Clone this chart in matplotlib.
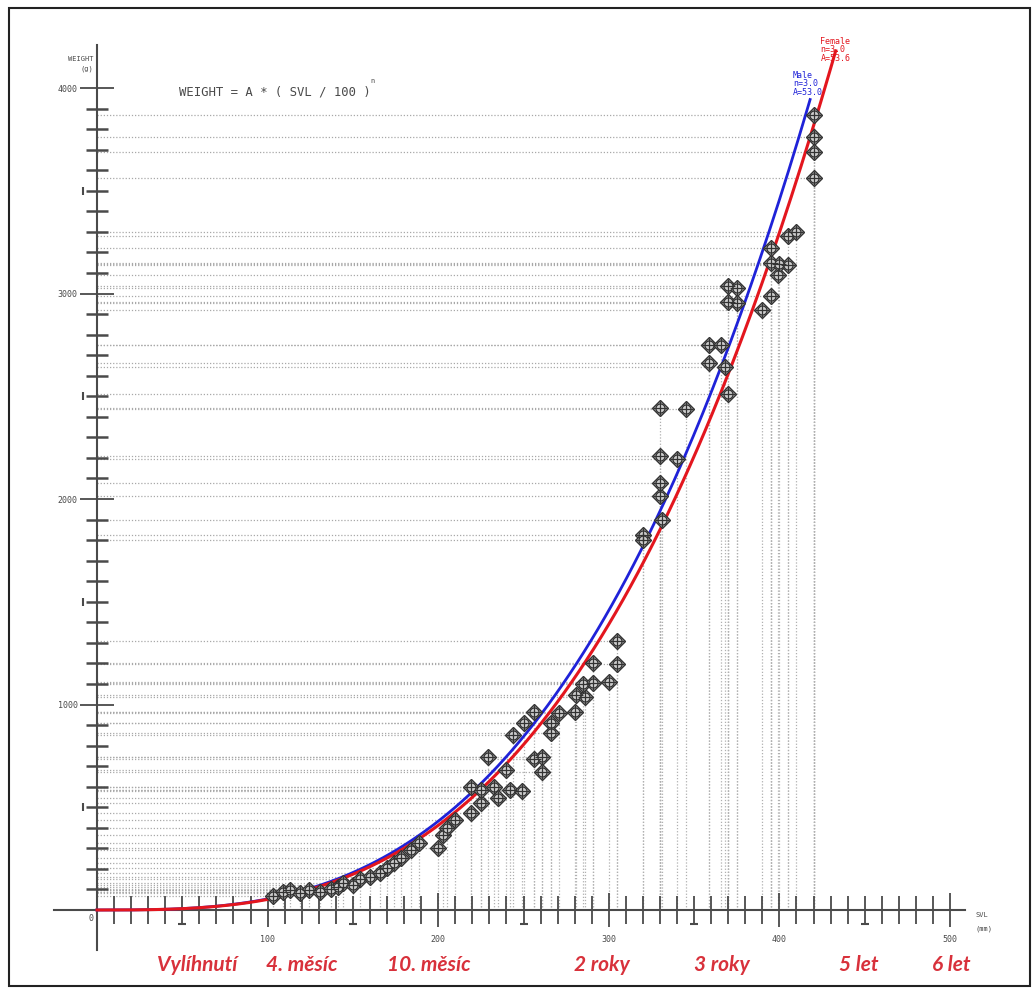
"""Weight vs SVL scatter with power-law growth curves."""

import matplotlib
matplotlib.use("Agg")
import matplotlib.pyplot as plt
import numpy as np
from matplotlib.patches import Rectangle

# measured animals: snout-vent length (mm) and weight (g)
svl = np.array([
    103, 109, 113, 119, 124, 131, 137, 141, 144, 150, 154, 160, 166, 170,
    174, 178, 184, 189, 200, 203, 205, 210, 219, 225, 219, 225, 233, 235,
    242, 249, 229, 240, 256, 261, 261, 244, 250, 266, 266, 256, 271, 280,
    281, 286, 285, 291, 300, 291, 305, 305,
    320, 320, 331, 330, 330, 330, 340, 330, 345, 370, 359, 368, 359, 366,
    370, 375, 370, 375, 390, 395, 399, 395, 400, 405, 395, 405, 410,
    420, 420, 420, 420])
weight = np.array([
    68, 88, 97, 83, 97, 88, 102, 112, 131, 122, 151, 161, 180, 204,
    229, 253, 292, 326, 302, 365, 399, 438, 472, 521, 599, 584, 599, 545,
    584, 579, 745, 681, 735, 745, 672, 852, 910, 910, 861, 963, 959, 963,
    1046, 1036, 1100, 1105, 1109, 1202, 1197, 1309,
    1825, 1800, 1898, 2015, 2078, 2209, 2195, 2443, 2438, 2511, 2662, 2642,
    2749, 2749, 3036, 3027, 2958, 2954, 2920, 2988, 3090, 3148, 3143, 3139,
    3221, 3280, 3299, 3868, 3761, 3688, 3562])

# fitted curves WEIGHT = A * (SVL / 100) ** n
male_a, male_n, male_max = 54.0, 3.0, 418
female_a, female_n, female_max = 51.5, 3.0, 433
male_label = "Male\nn=3.0\nA=53.0"
female_label = "Female\nn=3.0\nA=53.6"

# age marks along the SVL axis
age_labels = ["Vylíhnutí", "4. měsíc", "10. měsíc", "2 roky", "3 roky",
              "5 let", "6 let"]
age_svl = [58.5, 120, 194.5, 296, 366, 446.5, 500.5]

W, H = 1034, 990
X0, XS = 97, 1.706       # pixel of svl 0, pixels per mm
Y0, YS = 910, 0.2055     # pixel of weight 0, pixels per gram

fig = plt.figure(figsize=(W / 100, H / 100), dpi=100)
ax = fig.add_axes([0, 0, 1, 1])
ax.set_xlim(-X0 / XS, (W - X0) / XS)
ax.set_ylim((Y0 - H) / YS, Y0 / YS)

grey = "#4a4a4a"
mono = "DejaVu Sans Mono"

# axes through the origin
for side in ("top", "right"):
    ax.spines[side].set_visible(False)
ax.spines["left"].set_position(("data", 0))
ax.spines["bottom"].set_position(("data", 0))
ax.spines["left"].set_bounds(-195, 4210)
ax.spines["bottom"].set_bounds(-25, 509)
for side in ("left", "bottom"):
    ax.spines[side].set_color(grey)
    ax.spines[side].set_linewidth(1.5)

ax.set_xticks(np.arange(100, 501, 100))
ax.set_xticks(np.arange(10, 501, 10), minor=True)
ax.set_yticks(np.arange(1000, 4001, 1000))
ax.set_yticks(np.arange(100, 4001, 100), minor=True)
ax.tick_params(axis="x", which="major", direction="inout", length=24,
               width=1.3, color=grey, labelsize=6, labelcolor=grey, pad=6)
ax.tick_params(axis="x", which="minor", direction="inout", length=20,
               width=1.3, color=grey)
ax.tick_params(axis="y", which="major", direction="inout", length=24,
               width=1.3, color=grey, labelsize=6, labelcolor=grey, pad=2)
ax.tick_params(axis="y", which="minor", direction="inout", length=16,
               width=1.8, color=grey)
for lab in ax.get_xticklabels() + ax.get_yticklabels():
    lab.set_family(mono)

# T caps on the half-way ticks
half_x = np.arange(50, 451, 100)
half_y = np.arange(500, 3501, 1000)
ax.plot(half_x, np.full(half_x.shape, -70.0), linestyle="none", marker="_",
        ms=6, mew=1.5, color=grey, clip_on=False)
ax.plot(np.full(half_y.shape, -8.0), half_y, linestyle="none", marker="|",
        ms=6, mew=1.5, color=grey, clip_on=False)

# drop lines from each point to both axes
ax.hlines(weight, 0, svl, colors="#a8a8a8", linestyles=(0, (1, 1.5)),
          linewidth=0.9, zorder=1)
ax.vlines(svl, 0, weight, colors="#b0b0b0", linestyles=(0, (1, 1.5)),
          linewidth=0.9, zorder=1)

# curves
xm = np.linspace(0, male_max, 300)
xf = np.linspace(0, female_max, 300)
ax.plot(xm, male_a * (xm / 100) ** male_n, color="#1f22d8", lw=2.0, zorder=3)
ax.plot(xf, female_a * (xf / 100) ** female_n, color="#e3161e", lw=2.2,
        zorder=4)

# points: diamond with a circled cross
ax.plot(svl, weight, linestyle="none", marker="D", ms=8, mfc="#bdbdbd",
        mec="#333333", mew=1.0, zorder=5)
ax.plot(svl, weight, linestyle="none", marker="o", ms=6.5, mfc="#cfcfcf",
        mec="#333333", mew=0.9, zorder=6)
ax.plot(svl, weight, linestyle="none", marker="+", ms=10, mec="#333333",
        mew=0.9, zorder=7)

# texts
ax.text(-2, 4080, "WEIGHT\n(g)", family=mono, fontsize=5, color=grey,
        ha="right", va="bottom", linespacing=1.6)
ax.text(-2, -20, "0", family=mono, fontsize=6, color=grey, ha="right",
        va="top")
ax.text(515, -10, "SVL\n(mm)", family=mono, fontsize=5, color=grey,
        ha="left", va="top", linespacing=2.4)
ax.text(48, 3980, "WEIGHT = A * ( SVL / 100 )", family=mono, fontsize=8.8,
        color=grey, ha="left", va="center")
ax.text(160, 4035, "n", family=mono, fontsize=5, color=grey, ha="left",
        va="center")
ax.text(424, 4250, female_label, family=mono, fontsize=6,
        color="#e3161e", ha="left", va="top", linespacing=0.95)
ax.text(408, 4085, male_label, family=mono, fontsize=6, color="#1f22d8",
        ha="left", va="top", linespacing=0.95)

for lab, x in zip(age_labels, age_svl):
    ax.text(x, -270, lab, family=["Lato", "DejaVu Sans"], fontsize=15,
            fontweight="bold", style="italic", color="#d8313b", ha="center",
            va="center")

fig.add_artist(Rectangle((9 / W, 1 - 986 / H), 1021 / W, 978 / H,
                         transform=fig.transFigure, fill=False, lw=1.5,
                         ec="#222222"))

fig.savefig("out.png", dpi=100)
